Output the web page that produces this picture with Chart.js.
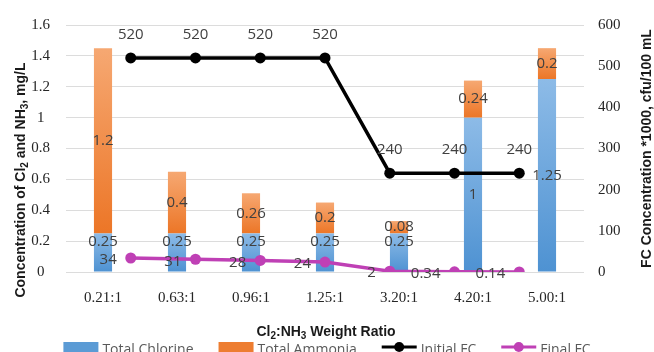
<!DOCTYPE html>
<html>
<head>
<meta charset="utf-8">
<script src="https://cdn.jsdelivr.net/npm/chart.js@4"></script>
<style>
  html, body { margin: 0; padding: 0; background: #fff; overflow: hidden; }
</style>
</head>
<body>
<canvas id="chart" width="654" height="352"></canvas>
<script>
// Chart data
const ratios = ['0.21:1', '0.63:1', '0.96:1', '1.25:1', '3.20:1', '4.20:1', '5.00:1'];
const totalChlorine = [0.25, 0.25, 0.25, 0.25, 0.25, 1, 1.25];
const totalAmmonia = [1.2, 0.4, 0.26, 0.2, 0.08, 0.24, 0.2];
const initialFC = [520, 520, 520, 520, 240, 240, 240];
const finalFC = [34, 31, 28, 24, 2, 0.34, 0.14];

// Titles, [text, isSubscript]
const leftTitle = [['Concentration of Cl', 0], ['2', 1], [' and NH', 0], ['3', 1], [', mg/L', 0]];
const rightTitle = [['FC Concentration *1000, cfu/100 mL', 0]];
const bottomTitle = [['Cl', 0], ['2', 1], [':NH', 0], ['3', 1], [' Weight Ratio', 0]];

const SANS = '"Open Sans", "Liberation Sans", sans-serif';
const TITLE_FONT = '"Liberation Sans", Arial, sans-serif';
const SERIF = '"Liberation Serif", "DejaVu Serif", serif';
const LABEL_COLOR = '#404040';

// vertical gradient for each stacked bar segment
const barGradient = (light, dark) => (c) => {
    const chart = c.chart;
    if (!chart.chartArea || c.type !== 'data') return dark;
    let lo = 0;
    for (let k = 0; k < c.datasetIndex; k++) {
        const ds = chart.data.datasets[k];
        if (ds.type === 'bar') lo += ds.data[c.dataIndex];
    }
    const y = chart.scales.y;
    const top = y.getPixelForValue(lo + c.raw);
    const bottom = y.getPixelForValue(lo);
    const g = chart.ctx.createLinearGradient(0, top, 0, bottom);
    g.addColorStop(0, light);
    g.addColorStop(1, dark);
    return g;
};

const drawRich = (ctx, parts, cx, cy, size) => {
    const main = `bold ${size}px ${TITLE_FONT}`;
    const sub = `bold ${Math.round(size * 0.68)}px ${TITLE_FONT}`;
    let w = 0;
    parts.forEach(([t, s]) => { ctx.font = s ? sub : main; w += ctx.measureText(t).width; });
    let x = cx - w / 2;
    const base = cy + size * 0.36;
    ctx.textAlign = 'left';
    ctx.textBaseline = 'alphabetic';
    parts.forEach(([t, s]) => {
        ctx.font = s ? sub : main;
        ctx.fillText(t, x, base + (s ? size * 0.2 : 0));
        x += ctx.measureText(t).width;
    });
};

const labelsPlugin = {
    id: 'valueLabels',
    afterDatasetsDraw(chart) {
        const ctx = chart.ctx;
        ctx.save();
        ctx.fillStyle = LABEL_COLOR;
        ctx.font = `15px ${SANS}`;
        ctx.textBaseline = 'middle';
        chart.data.datasets.forEach((ds, di) => {
            const meta = chart.getDatasetMeta(di);
            meta.data.forEach((el, i) => {
                const text = String(ds.data[i].y !== undefined ? ds.data[i].y : ds.data[i]);
                if (ds.labelPos === 'center') {
                    ctx.textAlign = 'center';
                    ctx.fillText(text, el.x, (el.y + el.base) / 2);
                } else if (ds.labelPos === 'fit') {
                    ctx.textAlign = 'center';
                    const h = el.base - el.y;
                    ctx.fillText(text, el.x, h < 50 ? el.y + 8 : (el.y + el.base) / 2);
                } else if (ds.labelPos === 'above') {
                    ctx.textAlign = 'center';
                    ctx.fillText(text, el.x, el.y - 23);
                } else if (ds.labelPos === 'left') {
                    ctx.textAlign = 'right';
                    ctx.fillText(text, el.x - 14, el.y + 2);
                }
            });
        });
        ctx.restore();
    }
};

const titlesPlugin = {
    id: 'axisTitles',
    afterDraw(chart) {
        const ctx = chart.ctx;
        const area = chart.chartArea;
        ctx.save();
        ctx.fillStyle = '#1a1a1a';
        drawRich(ctx, bottomTitle, (area.left + area.right) / 2 + 1, 331, 14);
        ctx.save();
        ctx.translate(20, 180);
        ctx.rotate(-Math.PI / 2);
        drawRich(ctx, leftTitle, 0, 0, 14);
        ctx.restore();
        ctx.save();
        ctx.translate(646, (area.top + area.bottom) / 2);
        ctx.rotate(-Math.PI / 2);
        drawRich(ctx, rightTitle, 0, 0, 14);
        ctx.restore();
        ctx.restore();
    }
};

// legend sits at the very bottom edge and is partly cut off, like the original
const legendPlugin = {
    id: 'bottomLegend',
    afterDraw(chart) {
        const ctx = chart.ctx;
        const symW = 35, gap = 4, spacing = 25, cy = 347;
        ctx.save();
        ctx.font = `14px ${SANS}`;
        const items = chart.data.datasets.map(ds => ({
            label: ds.label, kind: ds.type, color: ds.legendColor, w: ctx.measureText(ds.label).width
        }));
        const total = items.reduce((s, it) => s + symW + gap + it.w, 0) + spacing * (items.length - 1);
        let x = (chart.width - total) / 2;
        ctx.textBaseline = 'middle';
        ctx.textAlign = 'left';
        items.forEach(it => {
            if (it.kind === 'bar') {
                ctx.fillStyle = it.color;
                ctx.fillRect(x, cy - 5, symW, 12);
            } else {
                ctx.strokeStyle = it.color;
                ctx.lineWidth = 3;
                ctx.beginPath();
                ctx.moveTo(x, cy);
                ctx.lineTo(x + symW, cy);
                ctx.stroke();
                ctx.fillStyle = it.color;
                ctx.beginPath();
                ctx.arc(x + symW / 2, cy, 5, 0, Math.PI * 2);
                ctx.fill();
            }
            ctx.fillStyle = '#595959';
            ctx.fillText(it.label, x + symW + gap, cy + 3);
            x += symW + gap + it.w + spacing;
        });
        ctx.restore();
    }
};

new Chart(document.getElementById('chart').getContext('2d'), {
    data: {
        labels: ratios,
        datasets: [
            {
                type: 'bar',
                label: 'Total Chlorine',
                data: totalChlorine,
                backgroundColor: barGradient('#8dbbe7', '#4e92d2'),
                legendColor: '#5b9bd5',
                labelPos: 'fit',
                xAxisID: 'x', yAxisID: 'y',
                grouped: false,
                barPercentage: 0.245,
                categoryPercentage: 1,
                order: 2
            },
            {
                type: 'bar',
                label: 'Total Ammonia',
                data: totalAmmonia,
                backgroundColor: barGradient('#f6a872', '#ec7627'),
                legendColor: '#ed7d31',
                labelPos: 'center',
                xAxisID: 'x', yAxisID: 'y',
                grouped: false,
                barPercentage: 0.245,
                categoryPercentage: 1,
                order: 2
            },
            {
                type: 'line',
                label: 'Initial FC',
                data: initialFC.map((v, i) => ({ x: i + 1, y: v })),
                borderColor: '#000000',
                backgroundColor: '#000000',
                legendColor: '#000000',
                borderWidth: 3.5,
                pointRadius: 5.5,
                pointBorderWidth: 0,
                labelPos: 'above',
                xAxisID: 'x2', yAxisID: 'y2',
                order: 0
            },
            {
                type: 'line',
                label: 'Final FC',
                data: finalFC.map((v, i) => ({ x: i + 1, y: v })),
                borderColor: '#bf40b5',
                backgroundColor: '#bf40b5',
                legendColor: '#bf40b5',
                borderWidth: 3.5,
                pointRadius: 5.5,
                pointBorderWidth: 0,
                labelPos: 'left',
                xAxisID: 'x2', yAxisID: 'y2',
                order: 0
            }
        ]
    },
    options: {
        responsive: false,
        animation: false,
        layout: { padding: { top: 24, left: 0, right: 0, bottom: 0 } },
        plugins: {
            legend: { display: false },
            tooltip: { enabled: false }
        },
        scales: {
            x: {
                type: 'category',
                stacked: true,
                offset: true,
                grid: { display: false, drawTicks: false },
                border: { display: false },
                ticks: { padding: 17, color: '#262626', font: { family: SERIF, size: 15 } },
                afterFit: s => { s.height = 80; }
            },
            x2: {
                type: 'linear',
                min: 0,
                max: 8,
                display: false
            },
            y: {
                position: 'left',
                stacked: true,
                min: 0,
                max: 1.6,
                grid: { color: '#dcdcdc', drawTicks: false },
                border: { display: false },
                ticks: {
                    stepSize: 0.2,
                    padding: 16,
                    crossAlign: 'center',
                    color: '#262626',
                    font: { family: SERIF, size: 15 },
                    callback: v => String(+v.toFixed(1))
                },
                afterFit: s => { s.width = 66; }
            },
            y2: {
                position: 'right',
                min: 0,
                max: 600,
                grid: { display: false, drawTicks: false },
                border: { display: false },
                ticks: {
                    stepSize: 100,
                    padding: 14,
                    color: '#262626',
                    font: { family: SERIF, size: 15 }
                },
                afterFit: s => { s.width = 70; }
            }
        }
    },
    plugins: [labelsPlugin, titlesPlugin, legendPlugin]
});
</script>
</body>
</html>
